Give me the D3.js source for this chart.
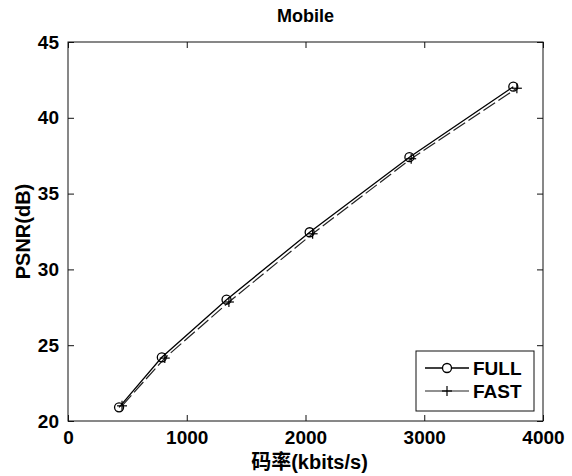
<!DOCTYPE html>
<html>
<head>
<meta charset="utf-8">
<script src="https://cdn.jsdelivr.net/npm/d3@7"></script>
<style>
  html, body { margin: 0; padding: 0; background: #fff; }
  svg { display: block; }
  text { font-family: "Liberation Sans", Arial, sans-serif; fill: #000; }
</style>
</head>
<body>
<svg id="chart" width="572" height="476"></svg>
<script>
// Rate–distortion curves for the "Mobile" sequence
const bitrateFull = [430, 790, 1335, 2035, 2875, 3750];
const psnrFull    = [20.9, 24.2, 28.0, 32.45, 37.4, 42.05];
const bitrateFast = [455, 815, 1355, 2060, 2890, 3780];
const psnrFast    = [21.0, 24.15, 27.85, 32.35, 37.3, 41.95];
const xTicks = [0, 1000, 2000, 3000, 4000];
const yTicks = [20, 25, 30, 35, 40, 45];
const seriesNames = ["FULL", "FAST"];

const svg = d3.select("#chart");
const m = { left: 68, right: 543, top: 42, bottom: 421 };

const x = d3.scaleLinear().domain([0, 4000]).range([m.left, m.right]);
const y = d3.scaleLinear().domain([20, 45]).range([m.bottom, m.top]);

const tickLen = 6;
const fontTick = "19px";

// Frame box
svg.append("rect")
  .attr("x", m.left).attr("y", m.top)
  .attr("width", m.right - m.left).attr("height", m.bottom - m.top)
  .attr("fill", "none").attr("stroke", "#111").attr("stroke-width", 1);

// Axes with inward ticks
const xAxisB = d3.axisBottom(x).tickValues(xTicks).tickSize(-tickLen).tickPadding(10).tickFormat(d3.format("d"));
const xAxisT = d3.axisTop(x).tickValues(xTicks).tickSize(-tickLen).tickFormat("");
const yAxisL = d3.axisLeft(y).tickValues(yTicks).tickSize(-tickLen).tickPadding(9).tickFormat(d3.format("d"));
const yAxisR = d3.axisRight(y).tickValues(yTicks).tickSize(-tickLen).tickFormat("");

function styleAxis(g) {
  g.select(".domain").remove();
  g.selectAll(".tick line").attr("stroke", "#111");
  g.selectAll(".tick text")
    .style("font-size", fontTick).style("font-weight", "bold")
    .attr("fill", "#000");
}

svg.append("g").attr("transform", `translate(0,${m.bottom})`).call(xAxisB).call(styleAxis);
svg.append("g").attr("transform", `translate(0,${m.top})`).call(xAxisT).call(styleAxis);
svg.append("g").attr("transform", `translate(${m.left},0)`).call(yAxisL).call(styleAxis);
svg.append("g").attr("transform", `translate(${m.right},0)`).call(yAxisR).call(styleAxis);

// Title and axis labels
svg.append("text")
  .attr("x", (m.left + m.right) / 2).attr("y", 22)
  .attr("text-anchor", "middle")
  .style("font-size", "18px").style("font-weight", "bold")
  .text("Mobile");

svg.append("text")
  .attr("x", (m.left + m.right) / 2 + 4).attr("y", 469)
  .attr("text-anchor", "middle")
  .style("font-size", "20px").style("font-weight", "bold")
  .style("font-family", "'Liberation Sans', 'Noto Sans CJK SC', sans-serif")
  .text("码率(kbits/s)");

svg.append("text")
  .attr("transform", `translate(30,${(m.top + m.bottom) / 2}) rotate(-90)`)
  .attr("text-anchor", "middle")
  .style("font-size", "20px").style("font-weight", "bold")
  .text("PSNR(dB)");

// Series
const full = bitrateFull.map((b, i) => [b, psnrFull[i]]);
const fast = bitrateFast.map((b, i) => [b, psnrFast[i]]);
const line = d3.line().x(d => x(d[0])).y(d => y(d[1]));

svg.append("path").datum(fast)
  .attr("d", line).attr("fill", "none")
  .attr("stroke", "#222").attr("stroke-width", 1.2)
  .attr("stroke-dasharray", "14,4");

svg.append("path").datum(full)
  .attr("d", line).attr("fill", "none")
  .attr("stroke", "#000").attr("stroke-width", 1.3);

const plusSize = 5;
function drawPlus(g, cx, cy) {
  g.append("line").attr("x1", cx - plusSize).attr("x2", cx + plusSize)
    .attr("y1", cy).attr("y2", cy).attr("stroke", "#000").attr("stroke-width", 1.2);
  g.append("line").attr("x1", cx).attr("x2", cx)
    .attr("y1", cy - plusSize).attr("y2", cy + plusSize).attr("stroke", "#000").attr("stroke-width", 1.2);
}

const fastMarks = svg.append("g");
fast.forEach(d => drawPlus(fastMarks, x(d[0]), y(d[1])));

svg.append("g").selectAll("circle").data(full).join("circle")
  .attr("cx", d => x(d[0])).attr("cy", d => y(d[1])).attr("r", 4.5)
  .attr("fill", "none").attr("stroke", "#000").attr("stroke-width", 1.3);

// Legend
const lg = svg.append("g");
lg.append("rect").attr("x", 416).attr("y", 351).attr("width", 118).attr("height", 60)
  .attr("fill", "#fff").attr("stroke", "#111").attr("stroke-width", 1);

const rows = [368, 391];
// FULL entry
lg.append("line").attr("x1", 425).attr("x2", 469).attr("y1", rows[0]).attr("y2", rows[0])
  .attr("stroke", "#000").attr("stroke-width", 1.3);
lg.append("circle").attr("cx", 447).attr("cy", rows[0]).attr("r", 4.5)
  .attr("fill", "#fff").attr("stroke", "#000").attr("stroke-width", 1.3);
// FAST entry
lg.append("line").attr("x1", 425).attr("x2", 469).attr("y1", rows[1]).attr("y2", rows[1])
  .attr("stroke", "#222").attr("stroke-width", 1.2);
drawPlus(lg, 447, rows[1]);

lg.selectAll("text.lbl").data(seriesNames).join("text")
  .attr("class", "lbl")
  .attr("x", 473).attr("y", (d, i) => rows[i] + 7)
  .style("font-size", "19px").style("font-weight", "bold")
  .text(d => d);
</script>
</body>
</html>
